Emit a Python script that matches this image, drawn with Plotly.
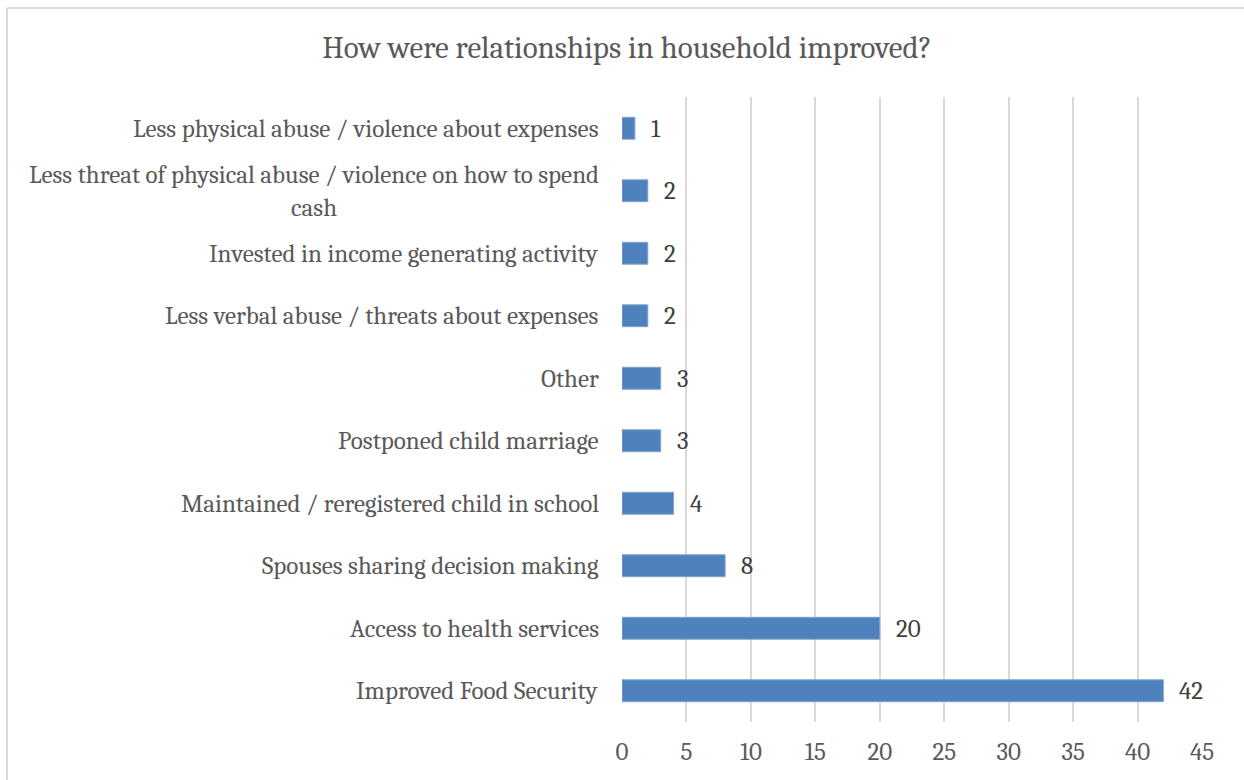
import plotly.graph_objects as go

categories = [
    "Improved Food Security",
    "Access to health services",
    "Spouses sharing decision making",
    "Maintained / reregistered child in school",
    "Postponed child marriage",
    "Other",
    "Less verbal abuse / threats about expenses",
    "Invested in income generating activity",
    "Less threat of physical abuse / violence on how to spend<br>cash",
    "Less physical abuse / violence about expenses",
]
values = [42, 20, 8, 4, 3, 3, 2, 2, 2, 1]
x_ticks = [0, 5, 10, 15, 20, 25, 30, 35, 40, 45]
title_text = "How were relationships in household improved?"

FONT = "Cambria, Caladea, 'Liberation Serif', serif"
W, H = 1244, 780
L, R, T, B = 622, 1202, 97, 722

fig = go.Figure()
fig.add_trace(go.Bar(
    x=values, y=categories, orientation="h",
    marker=dict(color="#4F81BD", line=dict(color="#7FA3D0", width=1)),
    width=0.35, showlegend=False, hoverinfo="x+y",
))

annotations = []
for c, v in zip(categories, values):
    annotations.append(dict(x=v, y=c, xref="x", yref="y", text=str(v), showarrow=False,
                            xanchor="left", xshift=14, font=dict(family=FONT, size=25, color="#404040")))
    annotations.append(dict(x=(601 - L) / (R - L), y=c, xref="paper", yref="y", text=c, showarrow=False,
                            xanchor="right", align="center",
                            font=dict(family=FONT, size=25, color="#595959")))

def px_x(p):
    return (p - L) / (R - L)

def px_y(p):
    return (B - p) / (B - T)

shapes = [
    dict(type="line", xref="paper", yref="paper", x0=px_x(7), x1=px_x(1250), y0=px_y(8), y1=px_y(8),
         line=dict(color="#D9D9D9", width=2)),
    dict(type="line", xref="paper", yref="paper", x0=px_x(7), x1=px_x(7), y0=px_y(8), y1=px_y(790),
         line=dict(color="#D9D9D9", width=2)),
]

fig.update_layout(
    width=W, height=H,
    margin=dict(l=L, r=W - R, t=T, b=H - B),
    paper_bgcolor="white", plot_bgcolor="white",
    title=dict(text=title_text, x=627 / W, xref="container", xanchor="center", y=1 - 47 / H, yanchor="middle",
               font=dict(family=FONT, size=31, color="#595959")),
    xaxis=dict(range=[0, 45], tickvals=x_ticks, showgrid=True, gridcolor="#D9D9D9", gridwidth=2,
               zeroline=False, showline=False, ticks="",
               tickfont=dict(family=FONT, size=25, color="#595959"), ticklabelstandoff=12),
    yaxis=dict(showticklabels=False, showgrid=False, zeroline=False, showline=False, ticks="",
               categoryorder="array", categoryarray=categories),
    annotations=annotations, shapes=shapes,
    bargap=0.65,
)

fig.write_html("out.html")
